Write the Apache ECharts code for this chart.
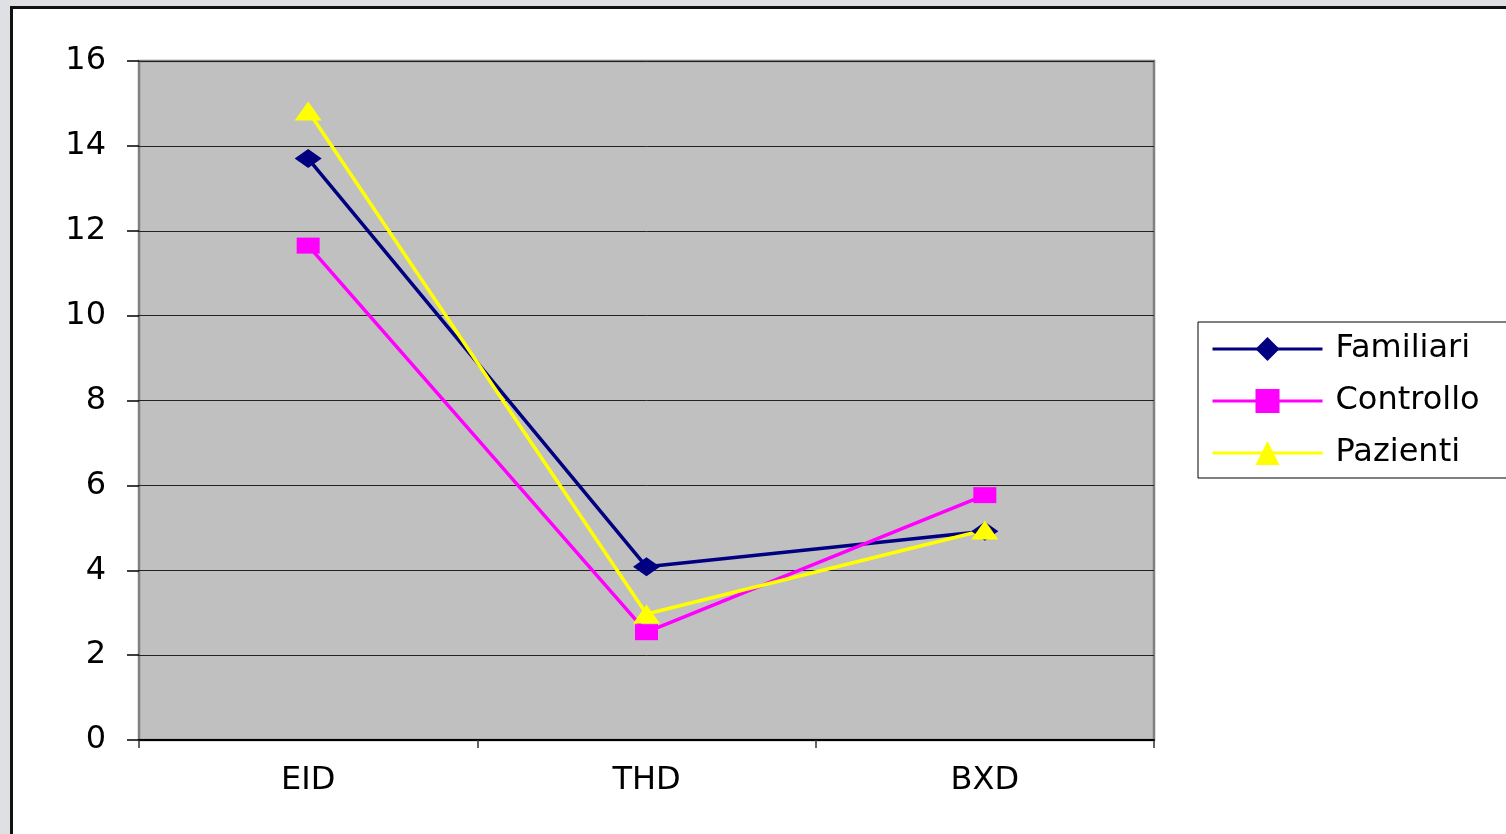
<!DOCTYPE html>
<html>
<head>
<meta charset="utf-8">
<script src="https://cdn.jsdelivr.net/npm/echarts@6/dist/echarts.min.js"></script>
<style>
  html, body { margin: 0; padding: 0; overflow: hidden; background: #dfe0e4; }
  #frame { position: absolute; left: 10px; top: 6px; width: 1600px; height: 900px;
           border-left: 3px solid #111; border-top: 3px solid #111; background: #ffffff; }
  #chart { position: absolute; left: 0; top: 0; width: 1506px; height: 834px; }
</style>
</head>
<body>
<div id="frame"></div>
<div id="chart"></div>
<script>
const categories = ['EID', 'THD', 'BXD'];
const familiari = [13.7, 4.08, 4.92];
const controllo = [11.65, 2.54, 5.77];
const pazienti = [14.82, 2.97, 4.95];
const yTicks = [0, 2, 4, 6, 8, 10, 12, 14, 16];

const FONT = 'DejaVu Sans';
const FS = 32;
const chart = echarts.init(document.getElementById('chart'), null, { renderer: 'canvas' });
chart.setOption({
  backgroundColor: 'transparent',
  animation: false,
  grid: {
    left: 139, top: 61, right: 352, bottom: 94,
    show: true, backgroundColor: '#c0c0c0', borderColor: '#808080', borderWidth: 2.5
  },
  legend: {
    orient: 'vertical',
    left: 1198, top: 322,
    padding: [11, 40, 9, 13],
    itemWidth: 110, itemHeight: 30, itemGap: 20,
    borderColor: '#000', borderWidth: 1,
    backgroundColor: '#fff',
    lineStyle: { width: 3 },
    textStyle: { fontFamily: FONT, fontSize: FS, color: '#000', lineHeight: 30, padding: [0, 0, 0, 8] },
    data: ['Familiari', 'Controllo', 'Pazienti']
  },
  xAxis: {
    type: 'category',
    data: categories,
    boundaryGap: true,
    axisLine: { show: true, lineStyle: { color: '#000', width: 2 } },
    axisTick: { show: true, length: 8, lineStyle: { color: '#333', width: 1.5 } },
    axisLabel: { fontFamily: FONT, fontSize: FS, color: '#000', margin: 25 },
    splitLine: { show: false }
  },
  yAxis: {
    type: 'value',
    min: yTicks[0], max: yTicks[yTicks.length - 1], interval: 2,
    axisLine: { show: false },
    axisTick: { show: true, length: 12, lineStyle: { color: '#000', width: 1.5 } },
    axisLabel: { fontFamily: FONT, fontSize: FS, color: '#000', margin: 33 },
    splitLine: { show: true, lineStyle: { color: '#222', width: 1 } }
  },
  series: [
    {
      name: 'Familiari', type: 'line', data: familiari,
      symbol: 'diamond', symbolSize: [27, 19],
      lineStyle: { color: '#000080', width: 3.5 },
      itemStyle: { color: '#000080' }
    },
    {
      name: 'Controllo', type: 'line', data: controllo,
      symbol: 'rect', symbolSize: [23, 16],
      lineStyle: { color: '#ff00ff', width: 3.5 },
      itemStyle: { color: '#ff00ff' }
    },
    {
      name: 'Pazienti', type: 'line', data: pazienti,
      symbol: 'triangle', symbolSize: [27, 19],
      lineStyle: { color: '#ffff00', width: 3.5 },
      itemStyle: { color: '#ffff00' }
    }
  ]
});
</script>
</body>
</html>
